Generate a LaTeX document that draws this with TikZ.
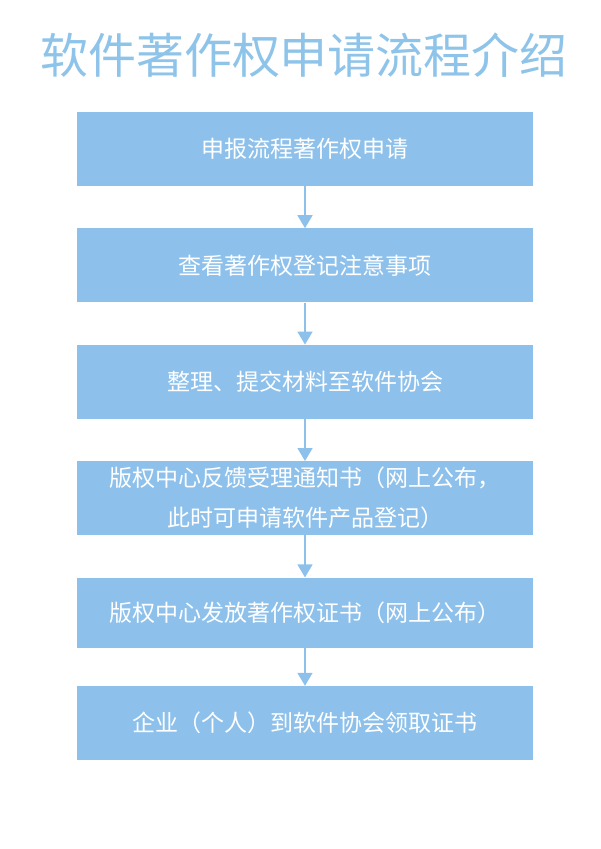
\documentclass[tikz,border=0pt]{standalone}
\usepackage{fontspec}
\setmainfont{Noto Sans CJK SC}
\usetikzlibrary{arrows.meta,positioning}
\definecolor{boxblue}{HTML}{8DC1EB}
\definecolor{titleblue}{HTML}{8EC4E9}
\begin{document}
\begin{tikzpicture}[x=1pt,y=-1pt,node distance=42pt,
    stepbox/.style={rectangle,fill=boxblue,text=white,minimum width=456pt,minimum height=74pt,inner sep=0pt,font=\fontsize{23}{40}\selectfont,align=center},
    flow/.style={draw=boxblue,line width=1.5pt,-{Triangle[width=15pt,length=13pt]}}]
  \useasboundingbox (0,0) rectangle (600,849);
  \node[text=titleblue,font=\fontsize{48}{52}\selectfont] (title) at (304,55) {软件著作权申请流程介绍};
  \node[stepbox] (A) at (305,149) {申报流程著作权申请};
  \node[stepbox] (B) [below=of A] {查看著作权登记注意事项};
  \node[stepbox] (C) [below=of B] {整理、提交材料至软件协会};
  \node[stepbox] (D) [below=of C] {版权中心反馈受理通知书（网上公布，\\此时可申请软件产品登记）};
  \node[stepbox,minimum height=70pt] (E) [below=of D] {版权中心发放著作权证书（网上公布）};
  \node[stepbox] (F) [below=38pt of E] {企业（个人）到软件协会领取证书};
  \draw[flow] (A) -- (B);
  \draw[flow] (B) -- (C);
  \draw[flow] (C) -- (D);
  \draw[flow] (D) -- (E);
  \draw[flow] (E) -- (F);
\end{tikzpicture}
\end{document}
